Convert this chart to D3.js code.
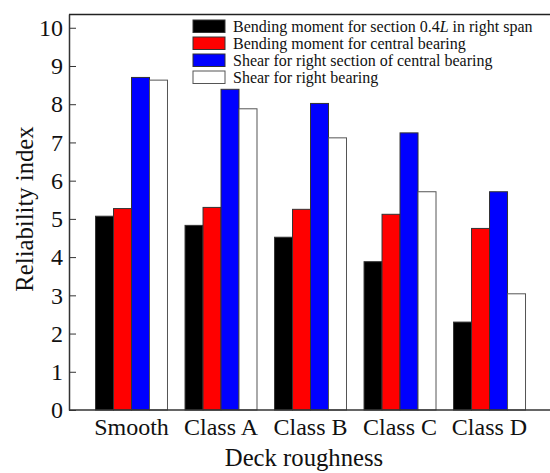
<!DOCTYPE html>
<html>
<head>
<meta charset="utf-8">
<script src="https://cdn.jsdelivr.net/npm/d3@7"></script>
<style>
  body { margin: 0; background: #fff; }
  text { font-family: "Liberation Serif", "Times New Roman", serif; fill: #111; }
</style>
</head>
<body>
<div id="chart"></div>
<script>
// Deck roughness categories
const categories = ["Smooth", "Class A", "Class B", "Class C", "Class D"];
const seriesNames = [
  "Bending moment for section 0.4L in right span",
  "Bending moment for central bearing",
  "Shear for right section of central bearing",
  "Shear for right bearing"
];
const seriesColors = ["#000000", "#ff0000", "#0000ff", "#ffffff"];

// reliability index per series
const momentSection = [5.07, 4.83, 4.52, 3.88, 2.30];
const momentCentral = [5.27, 5.30, 5.25, 5.12, 4.75];
const shearCentral = [8.70, 8.39, 8.02, 7.25, 5.71];
const shearRight = [8.63, 7.88, 7.12, 5.71, 3.04];
const yTicks = [0, 1, 2, 3, 4, 5, 6, 7, 8, 9, 10];

const seriesValues = [momentSection, momentCentral, shearCentral, shearRight];

const width = 550, height = 473;
const margin = { top: 14, right: 0, bottom: 63, left: 69 };

const svg = d3.select("#chart").append("svg")
  .attr("width", width)
  .attr("height", height);

const x0 = d3.scaleBand()
  .domain(categories)
  .range([margin.left, width - margin.right])
  .paddingInner(0.196)
  .paddingOuter(0.285)
  .align(0.52);

const x1 = d3.scaleBand()
  .domain(d3.range(seriesNames.length))
  .range([0, x0.bandwidth()]);

const y = d3.scaleLinear()
  .domain([0, 10.36])
  .range([height - margin.bottom, margin.top]);

// frame: top line
svg.append("line")
  .attr("x1", margin.left).attr("x2", width)
  .attr("y1", margin.top + 0.5).attr("y2", margin.top + 0.5)
  .attr("stroke", "#222").attr("stroke-width", 1.5);

// bars
categories.forEach((cat, ci) => {
  seriesValues.forEach((vals, si) => {
    svg.append("rect")
      .attr("x", x0(cat) + x1(si))
      .attr("y", y(vals[ci]))
      .attr("width", x1.bandwidth())
      .attr("height", y(0) - y(vals[ci]))
      .attr("fill", seriesColors[si])
      .attr("stroke", si === 3 ? "#555" : "#333")
      .attr("stroke-width", 1);
  });
});

// y axis, ticks inward
const yAxis = svg.append("g")
  .attr("transform", `translate(${margin.left},0)`)
  .call(d3.axisLeft(y).tickValues(yTicks).tickSizeInner(-7).tickSizeOuter(0).tickPadding(6));
yAxis.select(".domain").attr("stroke", "#333").attr("stroke-width", 1.5);
yAxis.selectAll(".tick line").attr("stroke", "#333");
yAxis.selectAll("text")
  .style("font-size", "24px")
  .attr("fill", "#111");

// x axis
const xAxis = svg.append("g")
  .attr("transform", `translate(0,${y(0)})`)
  .call(d3.axisBottom(x0).tickSize(0).tickPadding(8));
xAxis.select(".domain")
  .attr("d", `M${margin.left},0H${width}`)
  .attr("stroke", "#333").attr("stroke-width", 1.5);
xAxis.selectAll("text")
  .style("font-size", "24px")
  .attr("fill", "#111");

// axis titles
svg.append("text")
  .attr("transform", `translate(33,209) rotate(-90)`)
  .attr("text-anchor", "middle")
  .style("font-size", "24.7px")
  .text("Reliability index");

svg.append("text")
  .attr("x", 304)
  .attr("y", 466)
  .attr("text-anchor", "middle")
  .style("font-size", "24.7px")
  .text("Deck roughness");

// legend
const legend = svg.append("g").attr("transform", "translate(193,20)");
seriesNames.forEach((name, i) => {
  const g = legend.append("g").attr("transform", `translate(0,${i * 17})`);
  g.append("rect")
    .attr("width", 32).attr("height", 12.5)
    .attr("fill", seriesColors[i])
    .attr("stroke", i === 3 ? "#555" : "#333");
  const t = g.append("text")
    .attr("x", 40).attr("y", 11.5)
    .style("font-size", "16px")
    .attr("textLength", null);
  if (i === 0) {
    t.append("tspan").text("Bending moment for section 0.4");
    t.append("tspan").style("font-style", "italic").text("L");
    t.append("tspan").text(" in right span");
  } else {
    t.text(name);
  }
});
</script>
</body>
</html>
